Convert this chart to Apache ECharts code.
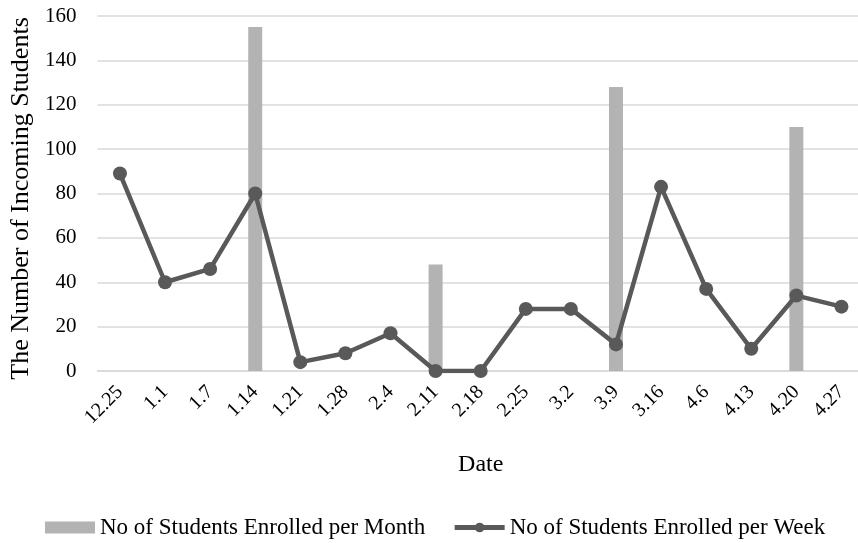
<!DOCTYPE html>
<html><head><meta charset="utf-8">
<script src="https://cdn.jsdelivr.net/npm/echarts@6/dist/echarts.min.js"></script>
<style>html,body{margin:0;padding:0;background:#fff;overflow:hidden;width:858px;height:543px}#c{width:864px;height:543px}</style>
</head><body><div id="c"></div>
<script>
const categories = ['12.25','1.1','1.7','1.14','1.21','1.28','2.4','2.11','2.18','2.25','3.2','3.9','3.16','4.6','4.13','4.20','4.27'];
const monthly = [null,null,null,155,null,null,null,48,null,null,null,128,null,null,null,110,null];
const weekly = [89,40,46,80,4,8,17,0,0,28,28,12,83,37,10,34,29];
const font = 'Liberation Serif';
const chart = echarts.init(document.getElementById('c'));
chart.setOption({
  animation:false,
  textStyle:{fontFamily:font,color:'#000'},
  grid:{left:93,top:16,right:0,bottom:172},
  legend:{top:516,left:45,itemGap:27,itemWidth:50,itemHeight:12,padding:0,
    textStyle:{fontFamily:font,fontSize:23,color:'#000'},
    data:[{name:'No of Students Enrolled per Month',icon:'rect'},
          {name:'No of Students Enrolled per Week',lineStyle:{width:5,color:'#595959'}}]},
  xAxis:{type:'category',data:categories,
    name:'Date',nameLocation:'middle',nameGap:82,
    nameTextStyle:{fontFamily:font,fontSize:24,color:'#000'},
    axisLine:{show:true,lineStyle:{color:'#d9d9d9',width:1.5}},axisTick:{show:false},
    axisLabel:{rotate:45,fontFamily:font,fontSize:20,color:'#000',margin:18,interval:0}},
  yAxis:{type:'value',min:0,max:160,interval:20,
    name:'The Number of Incoming Students',nameLocation:'middle',nameGap:62,
    nameTextStyle:{fontFamily:font,fontSize:26,color:'#000',padding:[0,10,0,0]},
    axisLine:{show:false},axisTick:{show:false},
    axisLabel:{fontFamily:font,fontSize:21,color:'#000',margin:21},
    splitLine:{lineStyle:{color:'#d9d9d9',width:1.5}}},
  series:[
    {name:'No of Students Enrolled per Month',type:'bar',data:monthly,barWidth:14,
     itemStyle:{color:'#b3b3b3'}},
    {name:'No of Students Enrolled per Week',type:'line',data:weekly,
     symbol:'circle',symbolSize:14,lineStyle:{color:'#595959',width:4.5},
     itemStyle:{color:'#595959'}}
  ]
});
</script></body></html>
